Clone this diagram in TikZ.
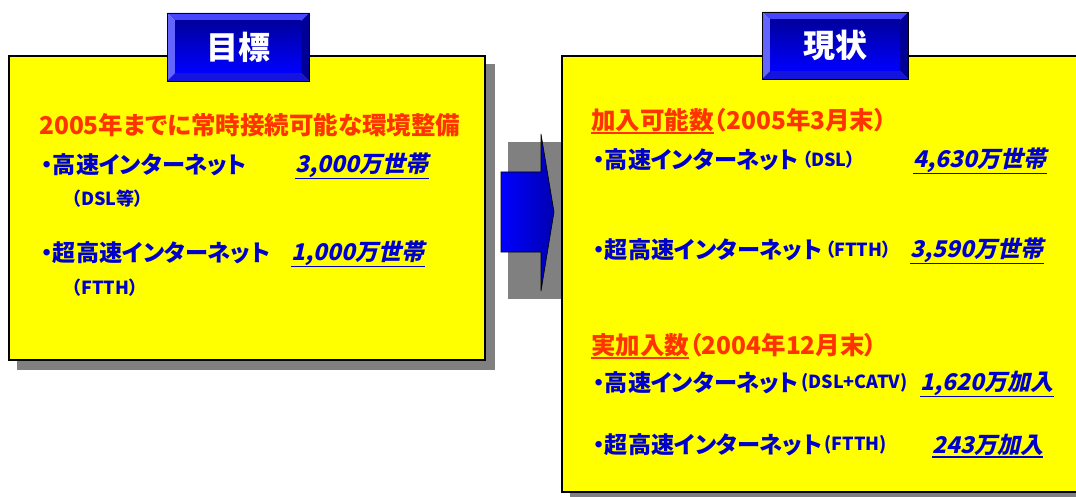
\documentclass[tikz,border=0pt]{standalone}
\usepackage{fontspec}
\setmainfont{Noto Sans CJK JP}
\newfontfamily\jpf{Noto Sans CJK JP}[RawFeature=+palt]
\newfontfamily\jpsl{Noto Sans CJK JP}[RawFeature=+palt, FakeSlant=0.22]
\definecolor{redt}{RGB}{255,51,0}
\definecolor{bluet}{RGB}{0,0,204}
\definecolor{ylw}{RGB}{255,255,0}
\definecolor{shd}{RGB}{128,128,128}
\definecolor{bvtop}{RGB}{70,70,255}
\definecolor{bvleft}{RGB}{100,100,255}
\definecolor{bvbot}{RGB}{20,20,220}
\definecolor{bvright}{RGB}{0,0,150}
\newcommand\mytitlebox[6]{%
  \fill[bvtop] (#1,#2) -- (#3,#2) -- ({#3-8},{#2+8}) -- ({#1+8},{#2+8}) -- cycle;
  \fill[bvleft] (#1,#2) -- ({#1+8},{#2+8}) -- ({#1+8},{#4-8}) -- (#1,#4) -- cycle;
  \fill[bvbot] (#1,#4) -- ({#1+8},{#4-8}) -- ({#3-8},{#4-8}) -- (#3,#4) -- cycle;
  \fill[bvright] (#3,#2) -- (#3,#4) -- ({#3-8},{#4-8}) -- ({#3-8},{#2+8}) -- cycle;
  \shade[top color=blue!62!black, bottom color=blue] ({#1+8},{#2+8}) rectangle ({#3-8},{#4-8});
  \draw[black, line width=0.8pt] (#1,#2) rectangle (#3,#4);
  \node[titletext] (#5) at ({(#1+#3)/2},{(#2+#4)/2}) {#6};
}
\begin{document}
\begin{tikzpicture}[x=1pt,y=-1pt,
  panel/.style={draw=black, line width=1.6pt, fill=ylw},
  titletext/.style={text=white, font=\jpf\bfseries\fontsize{32}{32}\selectfont, inner sep=0pt},
  hd/.style={text=redt, font=\jpf\bfseries\fontsize{24.5}{24.5}\selectfont, anchor=west, inner sep=0pt},
  item/.style={text=bluet, font=\jpf\bfseries\fontsize{23.2}{23.2}\selectfont, anchor=west, inner sep=0pt},
  subt/.style={text=bluet, font=\jpf\bfseries\fontsize{18}{18}\selectfont, anchor=west, inner sep=0pt},
  num/.style={text=bluet, font=\jpsl\bfseries\fontsize{23}{23}\selectfont, anchor=west, inner sep=0pt},
  uline/.style={line width=1.6pt}
]
\useasboundingbox (0,0) rectangle (1076,497);
% panels
\fill[shd] (17,64) rectangle (495,370);
\draw[panel] (9,56) rectangle (485,360);
\fill[shd] (570,64) rectangle (1095,505);
\draw[panel] (562,56) rectangle (1095,492);
% arrow
\fill[shd] (508,142) rectangle (561,299);
\draw[line width=0.6pt, left color=blue, right color=blue!70!black]
  (501,172) -- (541,172) -- (541,134) -- (554,212) -- (541,291) -- (541,252) -- (501,252) -- cycle;
% titles
\mytitlebox{167}{13}{309}{81}{tl}{目標}
\mytitlebox{762}{12}{908}{79}{tr}{現状}
% left texts
\node[hd] (l0) at (39,125) {2005年までに常時接続可能な環境整備};
\node[item] (l1) at (41,165) {・高速インターネット};
\node[num] (l1n) at (295,165) {3,000万世帯};
\draw[uline,bluet] ([yshift=-1pt]l1n.south west) -- ([yshift=-1pt]l1n.south east);
\node[subt] (l1s) at (72,199) {（DSL等）};
\node[item] (l2) at (41,253) {・超高速インターネット};
\node[num] (l2n) at (291,253) {1,000万世帯};
\draw[uline,bluet] ([yshift=-1pt]l2n.south west) -- ([yshift=-1pt]l2n.south east);
\node[subt] (l2s) at (72,288) {（FTTH）};
% right texts
\node[hd] (r0) at (591,120) {加入可能数};
\node[hd] (r0b) at (r0.east) {（2005年3月末）};
\draw[uline,redt] ([yshift=-1pt]r0.south west) -- ([yshift=-1pt]r0.south east);
\node[item] (r1) at (593,160) {・高速インターネット};
\node[subt] (r1s) at ([xshift=3pt]r1.east) {（DSL）};
\node[num] (r1n) at (913,160) {4,630万世帯};
\draw[uline,bluet] ([yshift=-1pt]r1n.south west) -- ([yshift=-1pt]r1n.south east);
\node[item] (r2) at (593,250) {・超高速インターネット};
\node[subt] (r2s) at ([xshift=3pt]r2.east) {（FTTH）};
\node[num] (r2n) at (910,250) {3,590万世帯};
\draw[uline,bluet] ([yshift=-1pt]r2n.south west) -- ([yshift=-1pt]r2n.south east);
\node[hd] (r3) at (591,345) {実加入数};
\node[hd] (r3b) at (r3.east) {（2004年12月末）};
\draw[uline,redt] ([yshift=-1pt]r3.south west) -- ([yshift=-1pt]r3.south east);
\node[item] (r4) at (593,383) {・高速インターネット};
\node[subt] (r4s) at ([xshift=2pt]r4.east) {(DSL+CATV)};
\node[num] (r4n) at (920,383) {1,620万加入};
\draw[uline,bluet] ([yshift=-1pt]r4n.south west) -- ([yshift=-1pt]r4n.south east);
\node[item] (r5) at (593,445) {・超高速インターネット};
\node[subt] (r5s) at ([xshift=2pt]r5.east) {(FTTH)};
\node[num] (r5n) at (932,445) {243万加入};
\draw[uline,bluet] ([yshift=-1pt]r5n.south west) -- ([yshift=-1pt]r5n.south east);
\end{tikzpicture}
\end{document}
